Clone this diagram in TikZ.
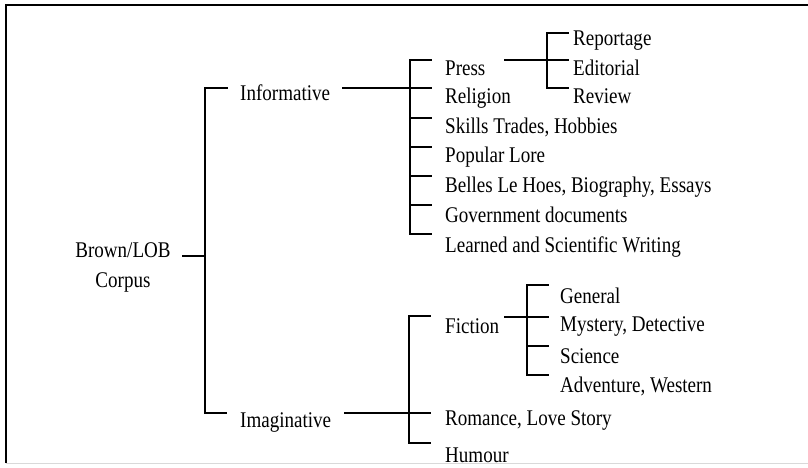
\documentclass[tikz,border=0pt]{standalone}
\usepackage{fontspec}
\setmainfont[FakeStretch=0.85]{Liberation Serif}
\begin{document}
\begin{tikzpicture}[x=1pt,y=-1pt,
  lbl/.style={anchor=base west,inner sep=0pt,font=\fontsize{22.4}{26}\selectfont},
  ctr/.style={anchor=base,inner sep=0pt,font=\fontsize{22.4}{26}\selectfont},
  conn/.style={line width=2.2pt,line cap=rect},
  frame/.style={line width=1.8pt}]
\useasboundingbox (0,0) rectangle (808,467);
% frame
\draw[frame] (6,463) -- (6,5) -- (808,5);
\draw[line width=1pt,black!15] (6,463) -- (808,463);

% texts
\node[ctr] (root) at (123,257) {Brown/LOB};
\node[ctr] (root2) at (123,287) {Corpus};
\node[lbl] (info) at (240,100) {Informative};
\node[lbl] (imag) at (240,427) {Imaginative};

\node[lbl] (press) at (445,75) {Press};
\node[lbl] (relig) at (445,103) {Religion};
\node[lbl] (skills) at (445,133) {Skills Trades, Hobbies};
\node[lbl] (lore) at (445,162) {Popular Lore};
\node[lbl] (belles) at (445,192) {Belles Le Hoes, Biography, Essays};
\node[lbl] (gov) at (445,222) {Government documents};
\node[lbl] (learned) at (445,252) {Learned and Scientific Writing};

\node[lbl] (rep) at (573,45) {Reportage};
\node[lbl] (edit) at (573,75) {Editorial};
\node[lbl] (rev) at (573,103) {Review};

\node[lbl] (fic) at (445,333) {Fiction};
\node[lbl] (rom) at (445,425) {Romance, Love Story};
\node[lbl] (hum) at (445,462) {Humour};

\node[lbl] (gen) at (560,303) {General};
\node[lbl] (mys) at (560,331) {Mystery, Detective};
\node[lbl] (sci) at (560,363) {Science};
\node[lbl] (adv) at (560,392) {Adventure, Western};

% connector coordinates
\coordinate (rootR) at (183,256);
\coordinate (b1) at (205,256);
\coordinate (infoL) at (227,88);
\coordinate (imagL) at (226,413);
\coordinate (infoR) at (343,88);
\coordinate (imagR) at (345,413);
\coordinate (pressR) at (505,60);
\coordinate (ficR) at (505,317);

% level 1
\draw[conn] (rootR) -- (b1);
\draw[conn] (infoL) -- (205,88) -- (205,413) -- (imagL);

% informative subtree
\draw[conn] (infoR) -- (431,88);
\draw[conn] (431,60) -- (410,60) -- (410,234) -- (431,234);
\foreach \y in {118,147,176,205} \draw[conn] (410,\y) -- (431,\y);

% press subtree
\draw[conn] (pressR) -- (568,60);
\draw[conn] (568,33) -- (547,33) -- (547,88) -- (568,88);

% imaginative subtree
\draw[conn] (imagR) -- (430,413);
\draw[conn] (430,316) -- (409,316) -- (409,443) -- (430,443);

% fiction subtree
\draw[conn] (ficR) -- (548,317);
\draw[conn] (548,285) -- (527,285) -- (527,375) -- (548,375);
\draw[conn] (527,346) -- (548,346);
\end{tikzpicture}
\end{document}
